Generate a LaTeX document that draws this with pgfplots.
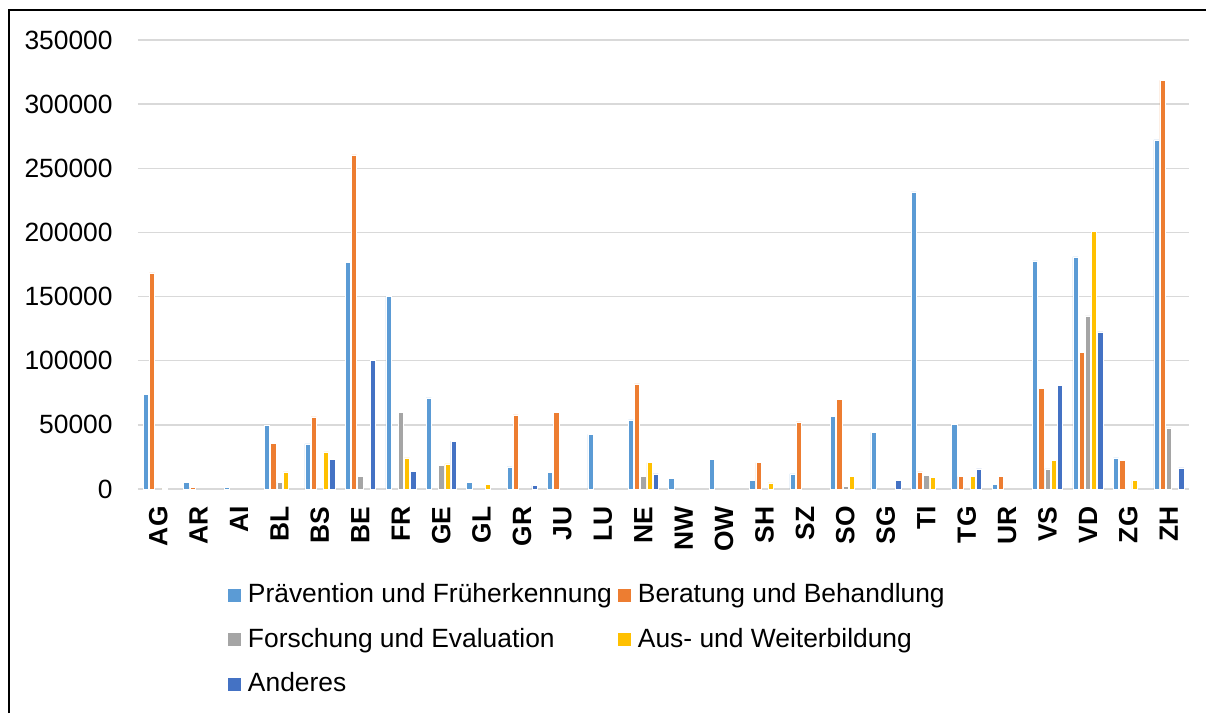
\documentclass[border=0pt]{standalone}
\usepackage{pgfplots}
\pgfplotsset{compat=1.18}
\usepackage{fontspec}
\setmainfont{Liberation Sans}
\definecolor{cA}{HTML}{5B9BD5}
\definecolor{cB}{HTML}{ED7D31}
\definecolor{cC}{HTML}{A5A5A5}
\definecolor{cD}{HTML}{FFC000}
\definecolor{cE}{HTML}{4472C4}
\definecolor{gridc}{HTML}{D9D9D9}
\begin{document}
\begin{tikzpicture}
\path[use as bounding box] (0,0) rectangle (603pt,356.5pt);
\draw[black, line width=0.85pt] (4.5pt,0) -- (4.5pt,351.5pt) -- (603pt,351.5pt);
\begin{axis}[
  at={(69pt,112pt)}, anchor=south west,
  scale only axis, width=525.5pt, height=224.5pt,
  axis line style={draw=none},
  ybar=0.5pt, bar width=2.6pt,
  xmin=-0.5, xmax=25.5,
  ymin=0, ymax=350000,
  ytick={0,50000,100000,150000,200000,250000,300000,350000},
  yticklabels={0,50000,100000,150000,200000,250000,300000,350000},
  ymajorgrids, grid style={gridc, line width=0.7pt},
  scaled y ticks=false,
  yticklabel style={anchor=east, inner sep=0pt, xshift=-12.5pt, font=\fontsize{13.2}{15}\selectfont},
  xtick={0,...,25},
  xticklabels={AG,AR,AI,BL,BS,BE,FR,GE,GL,GR,JU,LU,NE,NW,OW,SH,SZ,SO,SG,TI,TG,UR,VS,VD,ZG,ZH},
  xticklabel style={rotate=90, anchor=east, inner sep=0pt, font=\fontsize{13.2}{15}\selectfont\bfseries},
  xticklabel shift=8.5pt,
  major tick length=0pt,
  tick style={draw=none},
  every axis plot/.append style={draw=white, line width=0.25pt},
  legend columns=2,
  legend cell align=left,
  legend image code/.code={\fill[#1, draw=none] (0pt,-3.25pt) rectangle (6.5pt,3.25pt);},
  legend style={at={(0.0856,-0.209)}, anchor=north west, draw=none, fill=none,
    inner sep=0pt, outer sep=0pt,
    font=\fontsize{13.2}{15}\selectfont,
    nodes={inner sep=0pt, text height=10pt, text depth=2.5pt},
    row sep=9.75pt,
    /tikz/every odd column/.append style={column sep=3.5pt},
    /tikz/every even column/.append style={column sep=3pt}},
]
\addplot[fill=cA] coordinates {(0,74000)(1,5200)(2,1300)(3,49400)(4,35100)(5,176800)(6,150000)(7,71000)(8,5200)(9,17200)(10,12700)(11,42600)(12,53800)(13,8300)(14,23100)(15,6800)(16,11700)(17,56900)(18,44200)(19,231700)(20,50200)(21,3400)(22,177800)(23,181000)(24,24200)(25,272200)};
\addplot[fill=cB] coordinates {(0,168500)(1,1500)(3,35600)(4,56200)(5,260500)(9,57700)(10,59500)(12,81900)(15,20500)(16,52300)(17,69900)(19,13300)(20,9600)(21,9600)(22,78500)(23,106600)(24,22100)(25,318500)};
\addplot[fill=cC] coordinates {(3,5200)(5,9600)(6,60000)(7,18700)(12,9900)(17,1800)(19,10400)(22,15600)(23,134900)(24,500)(25,47600)};
\addplot[fill=cD] coordinates {(0,500)(3,13300)(4,28900)(6,24200)(7,19500)(8,3400)(12,20500)(15,4700)(17,9600)(19,9100)(20,9600)(22,22400)(23,201000)(24,6500)};
\addplot[fill=cE] coordinates {(4,23100)(5,100000)(6,14000)(7,37400)(9,2600)(12,11700)(18,7000)(20,15600)(22,80900)(23,122500)(25,16400)};
\legend{Prävention und Früherkennung, Beratung und Behandlung, Forschung und Evaluation, Aus- und Weiterbildung, Anderes}
\end{axis}
\end{tikzpicture}
\end{document}
